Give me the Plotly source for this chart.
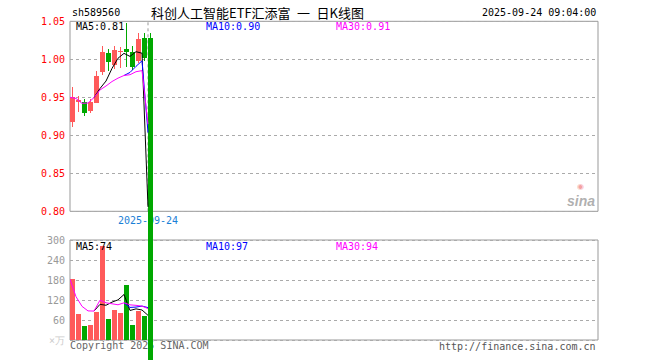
import plotly.graph_objects as go
import pandas as pd

# ---------------- data ----------------
opens   = [0.918, 0.944, 0.944, 0.932, 0.943, 0.983, 1.008, 0.992, 1.009, 1.013, 1.009, 0.998, 1.028, 1.028]
highs   = [0.963, 0.952, 0.948, 0.948, 0.985, 1.017, 1.013, 1.018, 1.016, 1.048, 1.017, 1.034, 1.034, 1.035]
lows    = [0.911, 0.931, 0.926, 0.930, 0.942, 0.980, 0.984, 0.987, 0.988, 0.990, 0.986, 0.995, 0.998, 0.000]
closes  = [0.950, 0.947, 0.929, 0.944, 0.978, 1.010, 0.996, 1.012, 1.011, 1.010, 0.990, 1.027, 1.002, 0.000]
volumes = [182, 78, 43, 46, 85, 283, 64, 90, 80, 165, 44, 88, 73, 0]

price_ticks = [0.80, 0.85, 0.90, 0.95, 1.00, 1.05]
vol_ticks = [0, 60, 120, 180, 240, 300]
vol_ticktext = ['<span style="color:#cccccc">×万</span>', '60', '120', '180', '240', '300']

code = "sh589560"
title = "科创人工智能ETF汇添富\u2002一\u2002日K线图"
stamp = "2025-09-24 09:04:00"
cursor_date = "2025-09-24"

# ---------------- derived ----------------
n = len(closes)
idx = list(range(n))
RED, GREEN = "#ff5a5a", "#00a800"
colors = [RED if c >= o else GREEN for o, c in zip(opens, closes)]

cs = pd.Series(closes)
vs = pd.Series(volumes, dtype=float)
def clean(s):
    return [None if pd.isna(v) else float(v) for v in s]
ma5, ma10, ma30 = clean(cs.rolling(5).mean()), clean(cs.rolling(10).mean()), clean(cs.rolling(30, min_periods=1).mean())
vma5, vma10, vma30 = clean(vs.rolling(5).mean()), clean(vs.rolling(10).mean()), clean(vs.rolling(30, min_periods=1).mean())

body_base = [min(o, c) for o, c in zip(opens, closes)]
body_h = [max(abs(c - o), 0.0015) for o, c in zip(opens, closes)]
wick_h = [h - l for h, l in zip(highs, lows)]

# ---------------- layout constants (pixels) ----------------
W, H = 660, 360
X0, X1 = 70, 598
STEP = 6.0
MONO = "DejaVu Sans Mono"

def py(px):  # pixel-from-top -> paper
    return (H - px) / H

fig = go.Figure()

# texts that the last bar covers (drawn on the base layer)
fig.add_trace(go.Scatter(x=[13], y=[221], mode="text", text=[cursor_date],
                         textposition="middle center",
                         textfont=dict(family=MONO, size=10, color="#1a7fd6"),
                         xaxis="x", yaxis="y", hoverinfo="skip"))
fig.add_trace(go.Scatter(x=[11.55], y=[346], mode="text", text=["Copyright 2025 SINA.COM"],
                         textposition="middle center",
                         textfont=dict(family=MONO, size=10, color="#666666"),
                         xaxis="x", yaxis="y", hoverinfo="skip"))

# volume panel
fig.add_trace(go.Bar(x=idx, y=volumes, base=[0] * n, width=5 / STEP, offset=0,
                     marker=dict(color=colors, line=dict(width=0)), yaxis="y2", hoverinfo="skip"))
for ys, col in [(vma5, "#000000"), (vma10, "#0000ff"), (vma30, "#ff00ff")]:
    fig.add_trace(go.Scatter(x=idx, y=ys, mode="lines", line=dict(color=col, width=1),
                             yaxis="y2", hoverinfo="skip"))

# price panel: wicks + bodies
fig.add_trace(go.Bar(x=idx, y=wick_h, base=lows, width=1 / STEP, offset=2 / STEP,
                     marker=dict(color=colors, line=dict(width=0)), yaxis="y3", hoverinfo="skip"))
fig.add_trace(go.Bar(x=idx, y=body_h, base=body_base, width=5 / STEP, offset=0,
                     marker=dict(color=colors, line=dict(width=0)), yaxis="y3", hoverinfo="skip"))
for ys, col in [(ma5, "#000000"), (ma10, "#0000ff"), (ma30, "#ff00ff")]:
    fig.add_trace(go.Scatter(x=idx, y=ys, mode="lines", line=dict(color=col, width=1),
                             yaxis="y3", hoverinfo="skip"))

# price axis: 1.05 at px 21.3, 0.80 at px 211.3 (760 px per unit)
PPU = 760.0
p_top = 1.05 + 21.3 / PPU
p_bot = 1.05 - (H - 21.3) / PPU
# volume axis: 0 at px 340, 300 at px 240
v_top = 340 * 3.0
v_bot = -(H - 340) * 3.0

grid = dict(showgrid=True, gridcolor="#aaaaaa", griddash="dot", gridwidth=1,
            zeroline=False, showline=False, ticks="outside", ticklen=2,
            tickcolor="rgba(0,0,0,0)", fixedrange=True)

fig.update_layout(
    width=W, height=H, margin=dict(l=0, r=0, t=0, b=0, pad=0),
    paper_bgcolor="white", plot_bgcolor="rgba(0,0,0,0)",
    showlegend=False, barmode="overlay", bargap=0,
    xaxis=dict(domain=[X0 / W, X1 / W], range=[0, (X1 - X0) / STEP], visible=False, fixedrange=True),
    yaxis=dict(domain=[0, 1], range=[H, 0], visible=False, fixedrange=True),
    yaxis2=dict(overlaying="y", domain=[0, 1], range=[v_bot, v_top], tickvals=vol_ticks,
                ticktext=vol_ticktext, tickfont=dict(family=MONO, size=10, color="#999999"), **grid),
    yaxis3=dict(overlaying="y", domain=[0, 1], range=[p_bot, p_top], tickvals=price_ticks,
                ticktext=[f"{t:.2f}" for t in price_ticks],
                tickfont=dict(family=MONO, size=10, color="#ff0000"), **grid),
)

# panel frames and cursor line
fig.add_shape(type="rect", xref="paper", yref="y3", x0=X0 / W, x1=X1 / W, y0=0.80, y1=1.05,
              line=dict(color="#999999", width=1), layer="below")
fig.add_shape(type="rect", xref="paper", yref="y2", x0=X0 / W, x1=X1 / W, y0=0, y1=300,
              line=dict(color="#999999", width=1), layer="below")
fig.add_shape(type="line", xref="x", yref="y3", x0=13, x1=13, y0=0.80, y1=1.05,
              line=dict(color="#999999", width=1, dash="dot"), layer="below")

def ann(text, xpx, ypx, color="#000000", anchor="left", size=10, family=MONO, **kw):
    fig.add_annotation(text=text, x=xpx / W, y=py(ypx), xref="paper", yref="paper",
                       xanchor=anchor, yanchor="middle", showarrow=False,
                       font=dict(family=family, size=size, color=color), **kw)

ann(code, 70, 13)
ann(title, 149, 12.5, size=13, family="Noto Sans CJK SC")
ann(stamp, 598, 13, anchor="right")
ann(f"MA5:{ma5[-1]:.2f}", 74, 26.5)
ann(f"MA10:{ma10[-1]:.2f}", 204, 26.5, color="#0000ff")
ann(f"MA30:{ma30[-1]:.2f}", 334, 26.5, color="#ff00ff")
ann(f"MA5:{vma5[-1]:.0f}", 74, 246.5)
ann(f"MA10:{vma10[-1]:.0f}", 204, 246.5, color="#0000ff")
ann(f"MA30:{vma30[-1]:.0f}", 334, 246.5, color="#ff00ff")
ann("http://finance.sina.com.cn", 598, 346, color="#555555", anchor="right")
# sina watermark
ann("<b><i>sina</i></b>", 581, 201, color="rgba(150,150,150,0.75)", anchor="center", size=14,
    family="Liberation Sans")
ann("◉", 580, 187, color="rgba(240,120,120,0.7)", anchor="center", size=8, family="DejaVu Sans")

fig.write_html("out.html", config={"displayModeBar": False, "staticPlot": True},
               post_script="document.body.style.margin='0';document.body.style.overflow='hidden';")
